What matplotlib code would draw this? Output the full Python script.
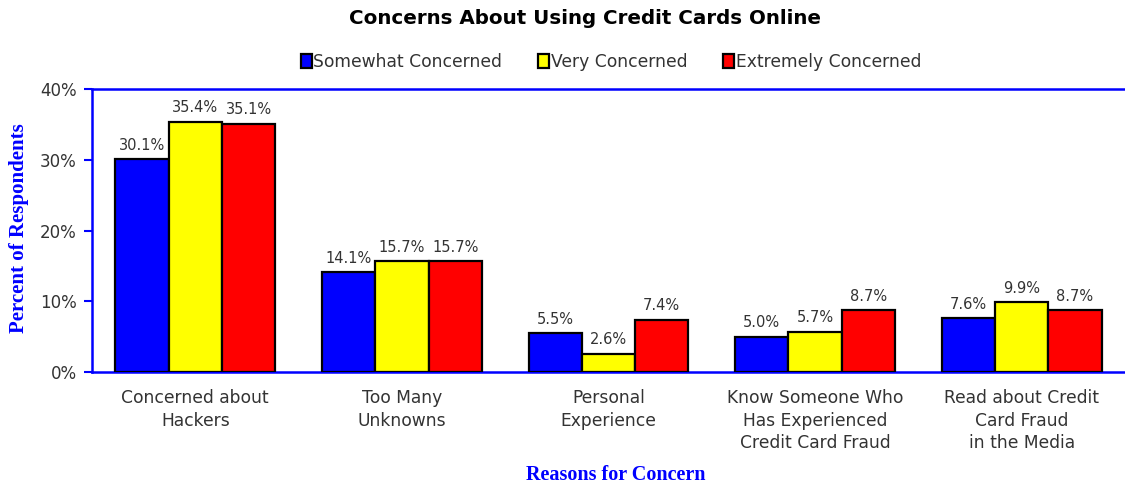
import matplotlib
matplotlib.use("Agg")
import matplotlib.pyplot as plt
import numpy as np

categories = ["Concerned about\nHackers", "Too Many\nUnknowns", "Personal\nExperience",
              "Know Someone Who\nHas Experienced\nCredit Card Fraud",
              "Read about Credit\nCard Fraud\nin the Media"]
series_names = ["Somewhat Concerned", "Very Concerned", "Extremely Concerned"]
somewhat = [30.1, 14.1, 5.5, 5.0, 7.6]
very = [35.4, 15.7, 2.6, 5.7, 9.9]
extremely = [35.1, 15.7, 7.4, 8.7, 8.7]
colors = ["#0000FF", "#FFFF00", "#FF0000"]
yticks = [0, 10, 20, 30, 40]

plt.rcParams['font.family'] = ['DejaVu Sans']

fig = plt.figure(figsize=(11.25, 4.86), dpi=100)
ax = fig.add_axes([92/1125, 1 - 372/486, (1125 - 92)/1125, (372 - 89)/486])

x = np.arange(len(categories))
w = 0.258
txtc = "#333333"
for i, (vals, c, name) in enumerate(zip([somewhat, very, extremely], colors, series_names)):
    bars = ax.bar(x + (i - 1) * w, vals, w, color=c, edgecolor="black", linewidth=1.6,
                  label=name, zorder=3)
    for b, v in zip(bars, vals):
        ax.text(b.get_x() + b.get_width() / 2, v + 0.9, f"{v:.1f}%", ha="center", va="bottom",
                fontsize=10.5, color=txtc)

ax.set_xlim(-0.5, len(categories) - 0.5)
ax.set_ylim(0, 40)
ax.set_yticks(yticks)
ax.set_yticklabels([f"{t}%" for t in yticks], fontsize=12, color=txtc)
ax.set_xticks(x)
ax.set_xticklabels(categories, fontsize=12.3, color=txtc, linespacing=1.35)
ax.tick_params(axis="x", length=0, pad=12)
ax.tick_params(axis="y", length=6, width=1.5, color="#0000FF", direction="out", pad=5)

for s in ["left", "bottom", "top"]:
    ax.spines[s].set_color("#0000FF")
    ax.spines[s].set_linewidth(1.8)
ax.spines["right"].set_visible(False)

fig.text(19/1125, 1 - 228/486, "Percent of Respondents", rotation=90, ha="center", va="center",
         fontsize=15, fontweight="bold", color="#0000FF", family="Liberation Serif")
fig.text(616/1125, 1 - 475/486, "Reasons for Concern", ha="center", va="center",
         fontsize=14.5, fontweight="bold", color="#0000FF", family="Liberation Serif")

fig.text(585/1125, 1 - 18/486, "Concerns About Using Credit Cards Online", ha="center",
         va="center", fontsize=14.3, fontweight="bold", color="black")

leg = fig.legend(loc="center", bbox_to_anchor=(611/1125, 1 - 62/486), ncol=3, frameon=False,
                 fontsize=12.3, handlelength=0.65, handleheight=0.95, handletextpad=0.1,
                 columnspacing=2.1)
for t in leg.get_texts():
    t.set_color(txtc)

fig.savefig("out.png", dpi=100)
